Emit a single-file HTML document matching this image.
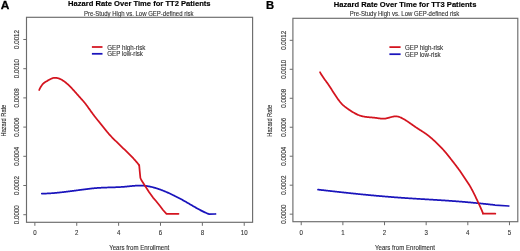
<!DOCTYPE html><html><head><meta charset="utf-8"><style>html,body{margin:0;padding:0;background:#fff;width:520px;height:251px;overflow:hidden}svg{display:block;filter:blur(0.55px)}text{font-family:"Liberation Sans", sans-serif}</style></head><body>
<svg width="520" height="251" viewBox="0 0 520 251">
<rect width="520" height="251" fill="#fff"/>
<text transform="translate(0.75,9.15) scale(1.17,1)" font-size="10.2" font-weight="bold" fill="#000" stroke="#000" stroke-width="0.25">A</text>
<text transform="translate(139.30,6.10) scale(0.9434,1)" font-size="8.056" text-anchor="middle" fill="#000" font-weight="bold" stroke="#000" stroke-width="0.15">Hazard Rate Over Time for TT2 Patients</text>
<text transform="translate(138.70,15.60) scale(0.8696,1)" font-size="6.900" text-anchor="middle" fill="#333333" stroke="#333333" stroke-width="0.12">Pre-Study High vs. Low GEP-defined risk</text>
<rect x="26.50" y="17.30" width="226.10" height="205.00" fill="none" stroke="#6c6c6c" stroke-width="1.15"/>
<line x1="23.30" y1="214.71" x2="26.50" y2="214.71" stroke="#6c6c6c" stroke-width="1"/>
<text transform="translate(19.40,214.71) rotate(-90) scale(0.9058,1)" font-size="6.900" text-anchor="middle" fill="#333333" stroke="#333333" stroke-width="0.12">0.0000</text>
<line x1="23.30" y1="185.51" x2="26.50" y2="185.51" stroke="#6c6c6c" stroke-width="1"/>
<text transform="translate(19.40,185.51) rotate(-90) scale(0.9058,1)" font-size="6.900" text-anchor="middle" fill="#333333" stroke="#333333" stroke-width="0.12">0.0002</text>
<line x1="23.30" y1="156.30" x2="26.50" y2="156.30" stroke="#6c6c6c" stroke-width="1"/>
<text transform="translate(19.40,156.30) rotate(-90) scale(0.9058,1)" font-size="6.900" text-anchor="middle" fill="#333333" stroke="#333333" stroke-width="0.12">0.0004</text>
<line x1="23.30" y1="127.10" x2="26.50" y2="127.10" stroke="#6c6c6c" stroke-width="1"/>
<text transform="translate(19.40,127.10) rotate(-90) scale(0.9058,1)" font-size="6.900" text-anchor="middle" fill="#333333" stroke="#333333" stroke-width="0.12">0.0006</text>
<line x1="23.30" y1="97.90" x2="26.50" y2="97.90" stroke="#6c6c6c" stroke-width="1"/>
<text transform="translate(19.40,97.90) rotate(-90) scale(0.9058,1)" font-size="6.900" text-anchor="middle" fill="#333333" stroke="#333333" stroke-width="0.12">0.0008</text>
<line x1="23.30" y1="68.70" x2="26.50" y2="68.70" stroke="#6c6c6c" stroke-width="1"/>
<text transform="translate(19.40,68.70) rotate(-90) scale(0.9058,1)" font-size="6.900" text-anchor="middle" fill="#333333" stroke="#333333" stroke-width="0.12">0.0010</text>
<line x1="23.30" y1="39.49" x2="26.50" y2="39.49" stroke="#6c6c6c" stroke-width="1"/>
<text transform="translate(19.40,39.49) rotate(-90) scale(0.9058,1)" font-size="6.900" text-anchor="middle" fill="#333333" stroke="#333333" stroke-width="0.12">0.0012</text>
<line x1="34.87" y1="222.30" x2="34.87" y2="225.80" stroke="#6c6c6c" stroke-width="1"/>
<text transform="translate(34.87,235.40) scale(0.8841,1)" font-size="6.900" text-anchor="middle" fill="#333333" stroke="#333333" stroke-width="0.12">0</text>
<line x1="76.74" y1="222.30" x2="76.74" y2="225.80" stroke="#6c6c6c" stroke-width="1"/>
<text transform="translate(76.74,235.40) scale(0.8841,1)" font-size="6.900" text-anchor="middle" fill="#333333" stroke="#333333" stroke-width="0.12">2</text>
<line x1="118.61" y1="222.30" x2="118.61" y2="225.80" stroke="#6c6c6c" stroke-width="1"/>
<text transform="translate(118.61,235.40) scale(0.8841,1)" font-size="6.900" text-anchor="middle" fill="#333333" stroke="#333333" stroke-width="0.12">4</text>
<line x1="160.49" y1="222.30" x2="160.49" y2="225.80" stroke="#6c6c6c" stroke-width="1"/>
<text transform="translate(160.49,235.40) scale(0.8841,1)" font-size="6.900" text-anchor="middle" fill="#333333" stroke="#333333" stroke-width="0.12">6</text>
<line x1="202.36" y1="222.30" x2="202.36" y2="225.80" stroke="#6c6c6c" stroke-width="1"/>
<text transform="translate(202.36,235.40) scale(0.8841,1)" font-size="6.900" text-anchor="middle" fill="#333333" stroke="#333333" stroke-width="0.12">8</text>
<line x1="244.23" y1="222.30" x2="244.23" y2="225.80" stroke="#6c6c6c" stroke-width="1"/>
<text transform="translate(244.23,235.40) scale(0.8841,1)" font-size="6.900" text-anchor="middle" fill="#333333" stroke="#333333" stroke-width="0.12">10</text>
<text transform="translate(5.50,120.60) rotate(-90) scale(0.8696,1)" font-size="6.497" text-anchor="middle" fill="#333333" stroke="#333333" stroke-width="0.12">Hazard Rate</text>
<text transform="translate(139.25,249.80) scale(0.8696,1)" font-size="7.015" text-anchor="middle" fill="#333333" stroke="#333333" stroke-width="0.12">Years from Enrollment</text>
<line x1="91.90" y1="47.00" x2="102.50" y2="47.00" stroke="#d4141f" stroke-width="1.75"/>
<line x1="91.90" y1="53.80" x2="102.50" y2="53.80" stroke="#1a14bc" stroke-width="1.75"/>
<text transform="translate(107.30,49.60) scale(0.8696,1)" font-size="7.130" fill="#333333" stroke="#333333" stroke-width="0.12">GEP high-risk</text>
<text transform="translate(107.30,56.40) scale(0.8696,1)" font-size="7.130" fill="#333333" stroke="#333333" stroke-width="0.12">GEP low-risk</text>
<path d="M41.80,193.62 L42.30,193.62 L42.80,193.61 L43.30,193.61 L43.80,193.60 L44.30,193.58 L44.80,193.57 L45.30,193.56 L45.80,193.54 L46.30,193.52 L46.80,193.50 L47.30,193.48 L47.80,193.45 L48.30,193.43 L48.80,193.40 L49.30,193.37 L49.80,193.34 L50.30,193.31 L50.80,193.28 L51.30,193.25 L51.80,193.21 L52.30,193.17 L52.80,193.13 L53.30,193.09 L53.80,193.05 L54.30,193.01 L54.80,192.97 L55.30,192.92 L55.80,192.88 L56.30,192.83 L56.80,192.78 L57.30,192.73 L57.80,192.68 L58.30,192.63 L58.80,192.58 L59.30,192.53 L59.80,192.48 L60.30,192.42 L60.80,192.37 L61.30,192.31 L61.80,192.25 L62.30,192.20 L62.80,192.14 L63.30,192.08 L63.80,192.02 L64.30,191.96 L64.80,191.90 L65.30,191.84 L65.80,191.78 L66.30,191.72 L66.80,191.66 L67.30,191.59 L67.80,191.53 L68.30,191.47 L68.80,191.41 L69.30,191.34 L69.80,191.28 L70.30,191.21 L70.80,191.15 L71.30,191.09 L71.80,191.02 L72.30,190.96 L72.80,190.89 L73.30,190.83 L73.80,190.77 L74.30,190.70 L74.80,190.64 L75.30,190.57 L75.80,190.51 L76.30,190.44 L76.80,190.38 L77.30,190.31 L77.80,190.25 L78.30,190.18 L78.80,190.12 L79.30,190.05 L79.80,189.99 L80.30,189.93 L80.80,189.86 L81.30,189.80 L81.80,189.73 L82.30,189.67 L82.80,189.60 L83.30,189.54 L83.80,189.48 L84.30,189.41 L84.80,189.35 L85.30,189.29 L85.80,189.22 L86.30,189.16 L86.80,189.10 L87.30,189.03 L87.80,188.97 L88.30,188.91 L88.80,188.85 L89.30,188.78 L89.80,188.72 L90.30,188.66 L90.80,188.61 L91.30,188.55 L91.80,188.49 L92.30,188.44 L92.80,188.38 L93.30,188.33 L93.80,188.28 L94.30,188.23 L94.80,188.18 L95.30,188.14 L95.80,188.10 L96.30,188.06 L96.80,188.02 L97.30,187.98 L97.80,187.94 L98.30,187.91 L98.80,187.88 L99.30,187.85 L99.80,187.82 L100.30,187.79 L100.80,187.76 L101.30,187.73 L101.80,187.71 L102.30,187.69 L102.80,187.66 L103.30,187.64 L103.80,187.62 L104.30,187.60 L104.80,187.58 L105.30,187.57 L105.80,187.55 L106.30,187.53 L106.80,187.52 L107.30,187.50 L107.80,187.49 L108.30,187.47 L108.80,187.46 L109.30,187.44 L109.80,187.43 L110.30,187.41 L110.80,187.40 L111.30,187.38 L111.80,187.37 L112.30,187.35 L112.80,187.34 L113.30,187.32 L113.80,187.31 L114.30,187.29 L114.80,187.27 L115.30,187.26 L115.80,187.24 L116.30,187.22 L116.80,187.20 L117.30,187.18 L117.80,187.16 L118.30,187.13 L118.80,187.11 L119.30,187.08 L119.80,187.06 L120.30,187.03 L120.80,187.00 L121.30,186.97 L121.80,186.94 L122.30,186.91 L122.80,186.87 L123.30,186.84 L123.80,186.80 L124.30,186.76 L124.80,186.72 L125.30,186.67 L125.80,186.63 L126.30,186.58 L126.80,186.53 L127.30,186.48 L127.80,186.43 L128.30,186.38 L128.80,186.33 L129.30,186.28 L129.80,186.23 L130.30,186.18 L130.80,186.12 L131.30,186.07 L131.80,186.02 L132.30,185.98 L132.80,185.93 L133.30,185.88 L133.80,185.84 L134.30,185.80 L134.80,185.76 L135.30,185.72 L135.80,185.69 L136.30,185.66 L136.80,185.63 L137.30,185.60 L137.80,185.58 L138.30,185.57 L138.80,185.55 L139.30,185.55 L139.80,185.54 L140.30,185.54 L140.80,185.55 L141.30,185.56 L141.80,185.58 L142.30,185.60 L142.80,185.63 L143.30,185.66 L143.80,185.70 L144.30,185.74 L144.80,185.79 L145.30,185.85 L145.80,185.91 L146.30,185.98 L146.80,186.05 L147.30,186.12 L147.80,186.20 L148.30,186.29 L148.80,186.38 L149.30,186.48 L149.80,186.58 L150.30,186.68 L150.80,186.79 L151.30,186.90 L151.80,187.02 L152.30,187.15 L152.80,187.27 L153.30,187.40 L153.80,187.54 L154.30,187.68 L154.80,187.82 L155.30,187.96 L155.80,188.11 L156.30,188.27 L156.80,188.42 L157.30,188.58 L157.80,188.75 L158.30,188.92 L158.80,189.09 L159.30,189.26 L159.80,189.44 L160.30,189.62 L160.80,189.80 L161.30,189.98 L161.80,190.17 L162.30,190.36 L162.80,190.56 L163.30,190.75 L163.80,190.95 L164.30,191.15 L164.80,191.36 L165.30,191.56 L165.80,191.77 L166.30,191.98 L166.80,192.20 L167.30,192.41 L167.80,192.63 L168.30,192.85 L168.80,193.07 L169.30,193.30 L169.80,193.52 L170.30,193.75 L170.80,193.98 L171.30,194.22 L171.80,194.45 L172.30,194.69 L172.80,194.93 L173.30,195.17 L173.80,195.42 L174.30,195.66 L174.80,195.91 L175.30,196.16 L175.80,196.41 L176.30,196.66 L176.80,196.92 L177.30,197.18 L177.80,197.44 L178.30,197.70 L178.80,197.96 L179.30,198.23 L179.80,198.49 L180.30,198.76 L180.80,199.03 L181.30,199.30 L181.80,199.58 L182.30,199.85 L182.80,200.13 L183.30,200.41 L183.80,200.69 L184.30,200.97 L184.80,201.25 L185.30,201.54 L185.80,201.83 L186.30,202.11 L186.80,202.40 L187.30,202.69 L187.80,202.98 L188.30,203.28 L188.80,203.57 L189.30,203.86 L189.80,204.15 L190.30,204.45 L190.80,204.74 L191.30,205.03 L191.80,205.32 L192.30,205.62 L192.80,205.91 L193.30,206.20 L193.80,206.49 L194.30,206.78 L194.80,207.06 L195.30,207.35 L195.80,207.63 L196.30,207.92 L196.80,208.20 L197.30,208.48 L197.80,208.75 L198.30,209.03 L198.80,209.30 L199.30,209.57 L199.80,209.84 L200.30,210.10 L200.80,210.37 L201.30,210.63 L201.80,210.88 L202.30,211.13 L202.80,211.38 L203.30,211.63 L203.80,211.87 L204.30,212.10 L204.80,212.34 L205.30,212.57 L205.80,212.79 L206.30,213.01 L206.80,213.23 L207.30,213.44 L207.80,213.64 L208.30,213.84 L208.80,214.04 L209.00,214.11 L215.50,214.00" fill="none" stroke="#1a14bc" stroke-width="1.75" stroke-linejoin="round" stroke-linecap="round"/>
<path d="M39.20,90.00 L39.70,88.88 L40.20,87.87 L40.70,86.97 L41.20,86.15 L41.70,85.43 L42.20,84.78 L42.70,84.19 L43.20,83.68 L43.70,83.21 L44.20,82.79 L44.70,82.41 L45.20,82.07 L45.70,81.75 L46.20,81.46 L46.70,81.18 L47.20,80.90 L47.70,80.63 L48.20,80.35 L48.70,80.07 L49.20,79.78 L49.70,79.49 L50.20,79.22 L50.70,78.96 L51.20,78.71 L51.70,78.50 L52.20,78.30 L52.70,78.14 L53.20,78.00 L53.70,77.89 L54.20,77.82 L54.70,77.78 L55.20,77.78 L55.70,77.80 L56.20,77.85 L56.70,77.93 L57.20,78.03 L57.70,78.14 L58.20,78.28 L58.70,78.44 L59.20,78.62 L59.70,78.82 L60.20,79.04 L60.70,79.27 L61.20,79.52 L61.70,79.79 L62.20,80.08 L62.70,80.39 L63.20,80.71 L63.70,81.04 L64.20,81.39 L64.70,81.76 L65.20,82.14 L65.70,82.54 L66.20,82.95 L66.70,83.37 L67.20,83.80 L67.70,84.25 L68.20,84.71 L68.70,85.18 L69.20,85.67 L69.70,86.16 L70.20,86.66 L70.70,87.17 L71.20,87.69 L71.70,88.22 L72.20,88.75 L72.70,89.29 L73.20,89.84 L73.70,90.39 L74.20,90.94 L74.70,91.50 L75.20,92.06 L75.70,92.62 L76.20,93.19 L76.70,93.76 L77.20,94.32 L77.70,94.89 L78.20,95.45 L78.70,96.02 L79.20,96.58 L79.70,97.14 L80.20,97.69 L80.70,98.24 L81.20,98.79 L81.70,99.35 L82.20,99.90 L82.70,100.46 L83.20,101.03 L83.70,101.61 L84.20,102.20 L84.70,102.81 L85.20,103.43 L85.70,104.07 L86.20,104.73 L86.70,105.40 L87.20,106.08 L87.70,106.77 L88.20,107.46 L88.70,108.17 L89.20,108.87 L89.70,109.57 L90.20,110.28 L90.70,110.98 L91.20,111.68 L91.70,112.37 L92.20,113.06 L92.70,113.74 L93.20,114.42 L93.70,115.09 L94.20,115.75 L94.70,116.41 L95.20,117.05 L95.70,117.69 L96.20,118.32 L96.70,118.94 L97.20,119.56 L97.70,120.18 L98.20,120.79 L98.70,121.41 L99.20,122.02 L99.70,122.63 L100.20,123.25 L100.70,123.87 L101.20,124.50 L101.70,125.13 L102.20,125.76 L102.70,126.39 L103.20,127.01 L103.70,127.64 L104.20,128.27 L104.70,128.90 L105.20,129.52 L105.70,130.14 L106.20,130.75 L106.70,131.36 L107.20,131.96 L107.70,132.56 L108.20,133.15 L108.70,133.73 L109.20,134.30 L109.70,134.86 L110.20,135.41 L110.70,135.95 L111.20,136.49 L111.70,137.01 L112.20,137.52 L112.70,138.03 L113.20,138.54 L113.70,139.04 L114.20,139.53 L114.70,140.02 L115.20,140.51 L115.70,141.00 L116.20,141.49 L116.70,141.98 L117.20,142.47 L117.70,142.95 L118.20,143.44 L118.70,143.92 L119.20,144.41 L119.70,144.89 L120.20,145.37 L120.70,145.86 L121.20,146.34 L121.70,146.82 L122.20,147.31 L122.70,147.79 L123.20,148.27 L123.70,148.76 L124.20,149.24 L124.70,149.73 L125.20,150.21 L125.70,150.70 L126.20,151.18 L126.70,151.67 L127.20,152.16 L127.70,152.65 L128.20,153.14 L128.70,153.63 L129.20,154.13 L129.70,154.62 L130.20,155.12 L130.70,155.63 L131.20,156.13 L131.70,156.65 L132.20,157.16 L132.70,157.69 L133.20,158.22 L133.70,158.76 L134.20,159.30 L134.70,159.85 L135.20,160.41 L135.70,160.99 L136.20,161.57 L136.70,162.16 L137.20,162.76 L137.70,163.37 L138.20,164.00 L138.70,164.64 L139.20,165.29" fill="none" stroke="#d4141f" stroke-width="1.75" stroke-linejoin="round" stroke-linecap="round"/>
<path d="M139.20,165.30 L139.70,171.00 L140.40,178.00 L141.30,180.00 L145.00,185.80 L149.00,192.00 L153.00,197.60 L156.00,201.00 L160.00,206.00 L163.00,210.00 L166.50,213.80 L178.50,213.80" fill="none" stroke="#d4141f" stroke-width="1.75" stroke-linejoin="round" stroke-linecap="round"/>
<text transform="translate(265.90,9.10) scale(1.10,1)" font-size="10.2" font-weight="bold" fill="#000" stroke="#000" stroke-width="0.25">B</text>
<text transform="translate(405.10,6.70) scale(0.9434,1)" font-size="8.056" text-anchor="middle" fill="#000" font-weight="bold" stroke="#000" stroke-width="0.15">Hazard Rate Over Time for TT3 Patients</text>
<text transform="translate(404.50,16.10) scale(0.8696,1)" font-size="6.900" text-anchor="middle" fill="#333333" stroke="#333333" stroke-width="0.12">Pre-Study High vs. Low GEP-defined risk</text>
<rect x="292.90" y="18.30" width="224.90" height="203.40" fill="none" stroke="#6c6c6c" stroke-width="1.15"/>
<line x1="289.70" y1="214.17" x2="292.90" y2="214.17" stroke="#6c6c6c" stroke-width="1"/>
<text transform="translate(285.70,214.17) rotate(-90) scale(0.9058,1)" font-size="6.900" text-anchor="middle" fill="#333333" stroke="#333333" stroke-width="0.12">0.0000</text>
<line x1="289.70" y1="185.19" x2="292.90" y2="185.19" stroke="#6c6c6c" stroke-width="1"/>
<text transform="translate(285.70,185.19) rotate(-90) scale(0.9058,1)" font-size="6.900" text-anchor="middle" fill="#333333" stroke="#333333" stroke-width="0.12">0.0002</text>
<line x1="289.70" y1="156.22" x2="292.90" y2="156.22" stroke="#6c6c6c" stroke-width="1"/>
<text transform="translate(285.70,156.22) rotate(-90) scale(0.9058,1)" font-size="6.900" text-anchor="middle" fill="#333333" stroke="#333333" stroke-width="0.12">0.0004</text>
<line x1="289.70" y1="127.24" x2="292.90" y2="127.24" stroke="#6c6c6c" stroke-width="1"/>
<text transform="translate(285.70,127.24) rotate(-90) scale(0.9058,1)" font-size="6.900" text-anchor="middle" fill="#333333" stroke="#333333" stroke-width="0.12">0.0006</text>
<line x1="289.70" y1="98.27" x2="292.90" y2="98.27" stroke="#6c6c6c" stroke-width="1"/>
<text transform="translate(285.70,98.27) rotate(-90) scale(0.9058,1)" font-size="6.900" text-anchor="middle" fill="#333333" stroke="#333333" stroke-width="0.12">0.0008</text>
<line x1="289.70" y1="69.29" x2="292.90" y2="69.29" stroke="#6c6c6c" stroke-width="1"/>
<text transform="translate(285.70,69.29) rotate(-90) scale(0.9058,1)" font-size="6.900" text-anchor="middle" fill="#333333" stroke="#333333" stroke-width="0.12">0.0010</text>
<line x1="289.70" y1="40.32" x2="292.90" y2="40.32" stroke="#6c6c6c" stroke-width="1"/>
<text transform="translate(285.70,40.32) rotate(-90) scale(0.9058,1)" font-size="6.900" text-anchor="middle" fill="#333333" stroke="#333333" stroke-width="0.12">0.0012</text>
<line x1="301.23" y1="221.70" x2="301.23" y2="225.20" stroke="#6c6c6c" stroke-width="1"/>
<text transform="translate(301.23,235.40) scale(0.8841,1)" font-size="6.900" text-anchor="middle" fill="#333333" stroke="#333333" stroke-width="0.12">0</text>
<line x1="342.88" y1="221.70" x2="342.88" y2="225.20" stroke="#6c6c6c" stroke-width="1"/>
<text transform="translate(342.88,235.40) scale(0.8841,1)" font-size="6.900" text-anchor="middle" fill="#333333" stroke="#333333" stroke-width="0.12">1</text>
<line x1="384.53" y1="221.70" x2="384.53" y2="225.20" stroke="#6c6c6c" stroke-width="1"/>
<text transform="translate(384.53,235.40) scale(0.8841,1)" font-size="6.900" text-anchor="middle" fill="#333333" stroke="#333333" stroke-width="0.12">2</text>
<line x1="426.17" y1="221.70" x2="426.17" y2="225.20" stroke="#6c6c6c" stroke-width="1"/>
<text transform="translate(426.17,235.40) scale(0.8841,1)" font-size="6.900" text-anchor="middle" fill="#333333" stroke="#333333" stroke-width="0.12">3</text>
<line x1="467.82" y1="221.70" x2="467.82" y2="225.20" stroke="#6c6c6c" stroke-width="1"/>
<text transform="translate(467.82,235.40) scale(0.8841,1)" font-size="6.900" text-anchor="middle" fill="#333333" stroke="#333333" stroke-width="0.12">4</text>
<line x1="509.47" y1="221.70" x2="509.47" y2="225.20" stroke="#6c6c6c" stroke-width="1"/>
<text transform="translate(509.47,235.40) scale(0.8841,1)" font-size="6.900" text-anchor="middle" fill="#333333" stroke="#333333" stroke-width="0.12">5</text>
<text transform="translate(272.20,120.80) rotate(-90) scale(0.8696,1)" font-size="6.497" text-anchor="middle" fill="#333333" stroke="#333333" stroke-width="0.12">Hazard Rate</text>
<text transform="translate(405.05,250.00) scale(0.8696,1)" font-size="7.015" text-anchor="middle" fill="#333333" stroke="#333333" stroke-width="0.12">Years from Enrollment</text>
<line x1="389.40" y1="47.10" x2="400.60" y2="47.10" stroke="#d4141f" stroke-width="1.75"/>
<line x1="389.40" y1="54.20" x2="400.60" y2="54.20" stroke="#1a14bc" stroke-width="1.75"/>
<text transform="translate(405.00,50.10) scale(0.8696,1)" font-size="7.130" fill="#333333" stroke="#333333" stroke-width="0.12">GEP high-risk</text>
<text transform="translate(405.00,57.20) scale(0.8696,1)" font-size="7.130" fill="#333333" stroke="#333333" stroke-width="0.12">GEP low-risk</text>
<path d="M318.00,189.63 L318.50,189.69 L319.00,189.74 L319.50,189.80 L320.00,189.85 L320.50,189.91 L321.00,189.97 L321.50,190.02 L322.00,190.08 L322.50,190.13 L323.00,190.19 L323.50,190.24 L324.00,190.30 L324.50,190.36 L325.00,190.41 L325.50,190.47 L326.00,190.52 L326.50,190.58 L327.00,190.64 L327.50,190.69 L328.00,190.75 L328.50,190.80 L329.00,190.86 L329.50,190.92 L330.00,190.97 L330.50,191.03 L331.00,191.08 L331.50,191.14 L332.00,191.19 L332.50,191.25 L333.00,191.31 L333.50,191.36 L334.00,191.42 L334.50,191.47 L335.00,191.53 L335.50,191.58 L336.00,191.64 L336.50,191.69 L337.00,191.75 L337.50,191.81 L338.00,191.86 L338.50,191.92 L339.00,191.97 L339.50,192.03 L340.00,192.08 L340.50,192.14 L341.00,192.19 L341.50,192.25 L342.00,192.30 L342.50,192.36 L343.00,192.41 L343.50,192.46 L344.00,192.52 L344.50,192.57 L345.00,192.63 L345.50,192.68 L346.00,192.74 L346.50,192.79 L347.00,192.84 L347.50,192.90 L348.00,192.95 L348.50,193.00 L349.00,193.06 L349.50,193.11 L350.00,193.16 L350.50,193.22 L351.00,193.27 L351.50,193.32 L352.00,193.37 L352.50,193.43 L353.00,193.48 L353.50,193.53 L354.00,193.58 L354.50,193.64 L355.00,193.69 L355.50,193.74 L356.00,193.79 L356.50,193.84 L357.00,193.89 L357.50,193.94 L358.00,194.00 L358.50,194.05 L359.00,194.10 L359.50,194.15 L360.00,194.20 L360.50,194.25 L361.00,194.30 L361.50,194.35 L362.00,194.40 L362.50,194.45 L363.00,194.50 L363.50,194.54 L364.00,194.59 L364.50,194.64 L365.00,194.69 L365.50,194.74 L366.00,194.79 L366.50,194.84 L367.00,194.88 L367.50,194.93 L368.00,194.98 L368.50,195.03 L369.00,195.07 L369.50,195.12 L370.00,195.17 L370.50,195.22 L371.00,195.26 L371.50,195.31 L372.00,195.35 L372.50,195.40 L373.00,195.45 L373.50,195.49 L374.00,195.54 L374.50,195.58 L375.00,195.63 L375.50,195.67 L376.00,195.72 L376.50,195.76 L377.00,195.81 L377.50,195.85 L378.00,195.90 L378.50,195.94 L379.00,195.99 L379.50,196.03 L380.00,196.07 L380.50,196.12 L381.00,196.16 L381.50,196.20 L382.00,196.24 L382.50,196.29 L383.00,196.33 L383.50,196.37 L384.00,196.41 L384.50,196.46 L385.00,196.50 L385.50,196.54 L386.00,196.58 L386.50,196.62 L387.00,196.66 L387.50,196.70 L388.00,196.74 L388.50,196.78 L389.00,196.83 L389.50,196.87 L390.00,196.91 L390.50,196.94 L391.00,196.98 L391.50,197.02 L392.00,197.06 L392.50,197.10 L393.00,197.14 L393.50,197.18 L394.00,197.22 L394.50,197.26 L395.00,197.29 L395.50,197.33 L396.00,197.37 L396.50,197.41 L397.00,197.44 L397.50,197.48 L398.00,197.52 L398.50,197.55 L399.00,197.59 L399.50,197.63 L400.00,197.66 L400.50,197.70 L401.00,197.74 L401.50,197.77 L402.00,197.81 L402.50,197.84 L403.00,197.88 L403.50,197.91 L404.00,197.95 L404.50,197.98 L405.00,198.01 L405.50,198.05 L406.00,198.08 L406.50,198.11 L407.00,198.15 L407.50,198.18 L408.00,198.21 L408.50,198.25 L409.00,198.28 L409.50,198.31 L410.00,198.34 L410.50,198.38 L411.00,198.41 L411.50,198.44 L412.00,198.47 L412.50,198.50 L413.00,198.54 L413.50,198.57 L414.00,198.60 L414.50,198.63 L415.00,198.66 L415.50,198.69 L416.00,198.72 L416.50,198.75 L417.00,198.78 L417.50,198.81 L418.00,198.84 L418.50,198.87 L419.00,198.91 L419.50,198.94 L420.00,198.97 L420.50,199.00 L421.00,199.03 L421.50,199.06 L422.00,199.09 L422.50,199.12 L423.00,199.15 L423.50,199.18 L424.00,199.20 L424.50,199.23 L425.00,199.26 L425.50,199.29 L426.00,199.32 L426.50,199.35 L427.00,199.38 L427.50,199.41 L428.00,199.44 L428.50,199.47 L429.00,199.50 L429.50,199.53 L430.00,199.56 L430.50,199.59 L431.00,199.62 L431.50,199.65 L432.00,199.68 L432.50,199.71 L433.00,199.74 L433.50,199.77 L434.00,199.80 L434.50,199.83 L435.00,199.86 L435.50,199.89 L436.00,199.92 L436.50,199.95 L437.00,199.99 L437.50,200.02 L438.00,200.05 L438.50,200.08 L439.00,200.11 L439.50,200.14 L440.00,200.17 L440.50,200.20 L441.00,200.24 L441.50,200.27 L442.00,200.30 L442.50,200.33 L443.00,200.36 L443.50,200.40 L444.00,200.43 L444.50,200.46 L445.00,200.49 L445.50,200.53 L446.00,200.56 L446.50,200.59 L447.00,200.63 L447.50,200.66 L448.00,200.69 L448.50,200.73 L449.00,200.76 L449.50,200.80 L450.00,200.83 L450.50,200.87 L451.00,200.90 L451.50,200.94 L452.00,200.97 L452.50,201.01 L453.00,201.05 L453.50,201.08 L454.00,201.12 L454.50,201.16 L455.00,201.19 L455.50,201.23 L456.00,201.27 L456.50,201.31 L457.00,201.35 L457.50,201.38 L458.00,201.42 L458.50,201.46 L459.00,201.50 L459.50,201.54 L460.00,201.58 L460.50,201.62 L461.00,201.66 L461.50,201.70 L462.00,201.74 L462.50,201.78 L463.00,201.83 L463.50,201.87 L464.00,201.91 L464.50,201.95 L465.00,201.99 L465.50,202.04 L466.00,202.08 L466.50,202.12 L467.00,202.17 L467.50,202.21 L468.00,202.26 L468.50,202.30 L469.00,202.35 L469.50,202.39 L470.00,202.44 L470.50,202.48 L471.00,202.53 L471.50,202.57 L472.00,202.62 L472.50,202.67 L473.00,202.71 L473.50,202.76 L474.00,202.81 L474.50,202.85 L475.00,202.90 L475.50,202.95 L476.00,203.00 L476.50,203.05 L477.00,203.10 L477.50,203.15 L478.00,203.20 L478.50,203.25 L479.00,203.30 L479.50,203.35 L480.00,203.40 L480.50,203.45 L481.00,203.50 L481.50,203.55 L482.00,203.60 L482.50,203.65 L483.00,203.70 L483.50,203.76 L484.00,203.81 L484.50,203.86 L485.00,203.92 L485.50,203.97 L486.00,204.02 L486.50,204.08 L487.00,204.13 L487.50,204.18 L488.00,204.24 L488.50,204.29 L489.00,204.35 L489.50,204.40 L490.00,204.46 L490.50,204.52 L491.00,204.57 L491.50,204.63 L492.00,204.69 L492.50,204.74 L493.00,204.80 L493.50,204.86 L494.00,204.92 L494.50,204.97 L495.00,205.03 L508.80,206.00" fill="none" stroke="#1a14bc" stroke-width="1.75" stroke-linejoin="round" stroke-linecap="round"/>
<path d="M320.00,72.18 L320.50,73.08 L321.00,73.95 L321.50,74.78 L322.00,75.57 L322.50,76.34 L323.00,77.09 L323.50,77.81 L324.00,78.52 L324.50,79.21 L325.00,79.90 L325.50,80.58 L326.00,81.26 L326.50,81.94 L327.00,82.62 L327.50,83.32 L328.00,84.03 L328.50,84.75 L329.00,85.49 L329.50,86.24 L330.00,87.00 L330.50,87.77 L331.00,88.55 L331.50,89.33 L332.00,90.12 L332.50,90.91 L333.00,91.70 L333.50,92.49 L334.00,93.27 L334.50,94.05 L335.00,94.82 L335.50,95.58 L336.00,96.33 L336.50,97.07 L337.00,97.80 L337.50,98.51 L338.00,99.21 L338.50,99.89 L339.00,100.55 L339.50,101.19 L340.00,101.82 L340.50,102.42 L341.00,102.99 L341.50,103.54 L342.00,104.07 L342.50,104.57 L343.00,105.05 L343.50,105.50 L344.00,105.93 L344.50,106.35 L345.00,106.75 L345.50,107.13 L346.00,107.51 L346.50,107.88 L347.00,108.24 L347.50,108.60 L348.00,108.96 L348.50,109.31 L349.00,109.66 L349.50,110.00 L350.00,110.34 L350.50,110.67 L351.00,111.00 L351.50,111.32 L352.00,111.64 L352.50,111.95 L353.00,112.25 L353.50,112.55 L354.00,112.83 L354.50,113.11 L355.00,113.39 L355.50,113.65 L356.00,113.90 L356.50,114.15 L357.00,114.39 L357.50,114.61 L358.00,114.83 L358.50,115.04 L359.00,115.23 L359.50,115.42 L360.00,115.59 L360.50,115.75 L361.00,115.90 L361.50,116.04 L362.00,116.17 L362.50,116.29 L363.00,116.40 L363.50,116.51 L364.00,116.60 L364.50,116.69 L365.00,116.77 L365.50,116.85 L366.00,116.92 L366.50,116.98 L367.00,117.04 L367.50,117.09 L368.00,117.14 L368.50,117.19 L369.00,117.24 L369.50,117.28 L370.00,117.33 L370.50,117.37 L371.00,117.41 L371.50,117.45 L372.00,117.49 L372.50,117.53 L373.00,117.58 L373.50,117.62 L374.00,117.67 L374.50,117.73 L375.00,117.78 L375.50,117.84 L376.00,117.91 L376.50,117.98 L377.00,118.04 L377.50,118.12 L378.00,118.19 L378.50,118.26 L379.00,118.33 L379.50,118.40 L380.00,118.46 L380.50,118.53 L381.00,118.58 L381.50,118.63 L382.00,118.67 L382.50,118.70 L383.00,118.72 L383.50,118.72 L384.00,118.70 L384.50,118.66 L385.00,118.60 L385.50,118.52 L386.00,118.43 L386.50,118.33 L387.00,118.21 L387.50,118.09 L388.00,117.96 L388.50,117.82 L389.00,117.68 L389.50,117.54 L390.00,117.39 L390.50,117.25 L391.00,117.11 L391.50,116.98 L392.00,116.85 L392.50,116.74 L393.00,116.63 L393.50,116.54 L394.00,116.46 L394.50,116.40 L395.00,116.36 L395.50,116.34 L396.00,116.34 L396.50,116.36 L397.00,116.41 L397.50,116.49 L398.00,116.59 L398.50,116.72 L399.00,116.87 L399.50,117.04 L400.00,117.23 L400.50,117.44 L401.00,117.66 L401.50,117.90 L402.00,118.15 L402.50,118.42 L403.00,118.69 L403.50,118.97 L404.00,119.26 L404.50,119.56 L405.00,119.86 L405.50,120.17 L406.00,120.49 L406.50,120.81 L407.00,121.13 L407.50,121.46 L408.00,121.80 L408.50,122.14 L409.00,122.48 L409.50,122.82 L410.00,123.17 L410.50,123.52 L411.00,123.87 L411.50,124.22 L412.00,124.57 L412.50,124.92 L413.00,125.27 L413.50,125.62 L414.00,125.97 L414.50,126.32 L415.00,126.67 L415.50,127.01 L416.00,127.35 L416.50,127.69 L417.00,128.02 L417.50,128.35 L418.00,128.68 L418.50,129.00 L419.00,129.32 L419.50,129.64 L420.00,129.95 L420.50,130.27 L421.00,130.59 L421.50,130.91 L422.00,131.22 L422.50,131.54 L423.00,131.87 L423.50,132.19 L424.00,132.52 L424.50,132.86 L425.00,133.20 L425.50,133.54 L426.00,133.90 L426.50,134.26 L427.00,134.62 L427.50,135.00 L428.00,135.38 L428.50,135.77 L429.00,136.16 L429.50,136.57 L430.00,136.98 L430.50,137.40 L431.00,137.82 L431.50,138.26 L432.00,138.69 L432.50,139.14 L433.00,139.59 L433.50,140.04 L434.00,140.50 L434.50,140.97 L435.00,141.44 L435.50,141.91 L436.00,142.39 L436.50,142.88 L437.00,143.36 L437.50,143.85 L438.00,144.35 L438.50,144.85 L439.00,145.35 L439.50,145.85 L440.00,146.36 L440.50,146.87 L441.00,147.38 L441.50,147.90 L442.00,148.42 L442.50,148.95 L443.00,149.49 L443.50,150.03 L444.00,150.59 L444.50,151.15 L445.00,151.72 L445.50,152.31 L446.00,152.91 L446.50,153.51 L447.00,154.12 L447.50,154.74 L448.00,155.37 L448.50,156.00 L449.00,156.63 L449.50,157.27 L450.00,157.91 L450.50,158.54 L451.00,159.18 L451.50,159.82 L452.00,160.46 L452.50,161.10 L453.00,161.74 L453.50,162.38 L454.00,163.03 L454.50,163.67 L455.00,164.32 L455.50,164.98 L456.00,165.63 L456.50,166.29 L457.00,166.96 L457.50,167.63 L458.00,168.31 L458.50,168.99 L459.00,169.67 L459.50,170.36 L460.00,171.06 L460.50,171.77 L461.00,172.48 L461.50,173.20 L462.00,173.93 L462.50,174.66 L463.00,175.41 L463.50,176.15 L464.00,176.90 L464.50,177.66 L465.00,178.41 L465.50,179.17 L466.00,179.92 L466.50,180.67 L467.00,181.42 L467.50,182.17 L468.00,182.94 L468.50,183.71 L469.00,184.50 L469.50,185.31 L470.00,186.14 L470.50,187.00 L471.00,187.89 L471.50,188.80 L472.00,189.73 L472.50,190.68 L473.00,191.65 L473.50,192.64 L474.00,193.65 L474.50,194.66 L475.00,195.69 L475.50,196.73 L476.00,197.78 L476.50,198.83 L477.00,199.89 L477.50,200.95 L478.00,202.02 L478.50,203.08 L479.00,204.15 L479.50,205.23 L480.00,206.32 L480.50,207.43 L481.00,208.55 L481.50,209.71 L482.00,210.89 L482.50,212.11 L483.00,213.37" fill="none" stroke="#d4141f" stroke-width="1.75" stroke-linejoin="round" stroke-linecap="round"/>
<path d="M483.00,213.70 L495.30,213.70" fill="none" stroke="#d4141f" stroke-width="1.75" stroke-linejoin="round" stroke-linecap="round"/>
</svg></body></html>
